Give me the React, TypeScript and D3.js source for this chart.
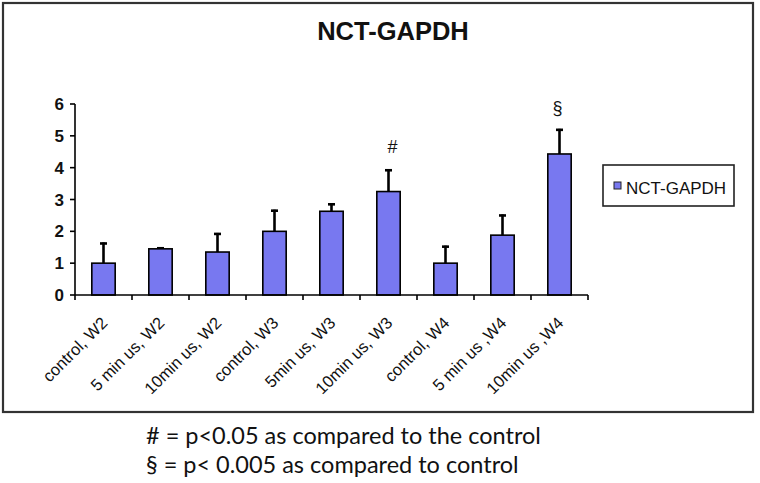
import React from "react";
import * as d3 from "d3";

const categories = [
  "control, W2",
  "5 min us, W2",
  "10min us, W2",
  "control, W3",
  "5min us, W3",
  "10min us, W3",
  "control, W4",
  "5 min us ,W4",
  "10min us ,W4",
];
const means = [1.0, 1.45, 1.35, 2.0, 2.63, 3.25, 1.0, 1.88, 4.43];
const errors = [0.65, 0.05, 0.6, 0.68, 0.25, 0.7, 0.55, 0.65, 0.79];
const marks = ["", "", "", "", "", "#", "", "", "§"];
const yTicks = [0, 1, 2, 3, 4, 5, 6];
const seriesName = "NCT-GAPDH";
const footnotes = [
  "# = p<0.05 as compared to the control",
  "§ = p< 0.005 as compared to control",
];

const W = 760;
const H = 483;
const BAR = "#7878F0";

export default function App() {
  const x = d3
    .scaleBand<string>()
    .domain(categories)
    .range([75, 588])
    .paddingInner(0.59)
    .paddingOuter(0.295);
  const y = d3.scaleLinear().domain([0, 6]).range([295, 104]);
  const step = x.step();
  const x0 = x.range()[0];
  const boundaries = d3.range(categories.length + 1).map((i) => x0 + i * step);
  const font = "Arial, 'Liberation Sans', sans-serif";

  return (
    <svg
      width={W}
      height={H}
      style={{ position: "absolute", left: 0, top: 0, display: "block", background: "#fff" }}
    >
      <rect x={0} y={0} width={W} height={H} fill="#fff" />
      <rect x={3} y={3} width={750} height={409} fill="#fff" stroke="#333" strokeWidth={2.2} />

      <text x={393} y={40} textAnchor="middle" fontFamily={font} fontWeight="bold" fontSize={25.5} fill="#111">
        NCT-GAPDH
      </text>

      {/* bars */}
      {categories.map((c, i) => {
        const bx = x(c)!;
        const bw = x.bandwidth();
        const cx = bx + bw / 2;
        const top = y(means[i] + errors[i]);
        return (
          <g key={c}>
            <line x1={cx} x2={cx} y1={y(means[i])} y2={top} stroke="#000" strokeWidth={2.6} />
            <line x1={cx - 3.5} x2={cx + 3.5} y1={top + 1} y2={top + 1} stroke="#000" strokeWidth={2.6} />
            <rect x={bx} y={y(means[i])} width={bw} height={y(0) - y(means[i])} fill={BAR} stroke="#000" strokeWidth={1.6} />
            {marks[i] && (
              <text
                x={cx + (marks[i] === "#" ? 4 : -2)}
                y={top - (marks[i] === "#" ? 16 : 15)}
                textAnchor="middle"
                fontFamily={font}
                fontSize={18}
                fill="#111"
              >
                {marks[i]}
              </text>
            )}
          </g>
        );
      })}

      {/* y axis */}
      <line x1={75} x2={75} y1={y(6)} y2={y(0)} stroke="#000" strokeWidth={1.6} />
      {yTicks.map((t) => (
        <g key={t}>
          <line x1={70} x2={75} y1={y(t)} y2={y(t)} stroke="#000" strokeWidth={1.6} />
          <text
            x={64}
            y={y(t)}
            dy="0.36em"
            textAnchor="end"
            fontFamily={font}
            fontWeight="bold"
            fontSize={17}
            fill="#111"
          >
            {t}
          </text>
        </g>
      ))}

      {/* x axis */}
      <line x1={x0} x2={boundaries[boundaries.length - 1]} y1={y(0)} y2={y(0)} stroke="#000" strokeWidth={1.6} />
      {boundaries.map((b, i) => (
        <line key={i} x1={b} x2={b} y1={y(0)} y2={y(0) + 5} stroke="#000" strokeWidth={1.6} />
      ))}
      {categories.map((c) => {
        const cx = x(c)! + x.bandwidth() / 2;
        return (
          <text
            key={c}
            transform={`translate(${cx + 5},${y(0) + 29}) rotate(-45)`}
            textAnchor="end"
            fontFamily={font}
            fontSize={16.5}
            fill="#111"
          >
            {c}
          </text>
        );
      })}

      {/* legend */}
      <rect x={603} y={165} width={131} height={41} fill="#fff" stroke="#222" strokeWidth={1.6} />
      <rect x={614} y={182} width={7} height={7} fill={BAR} stroke="#222" strokeWidth={1} />
      <text x={626} y={193.5} fontFamily={font} fontSize={17} fill="#111">
        {seriesName}
      </text>

      {/* footnotes */}
      {footnotes.map((f, i) => (
        <text key={i} x={146} y={444 + i * 28.5} fontFamily="Lato, 'Open Sans', sans-serif" fontSize={23.5} fill="#111">
          {f}
        </text>
      ))}
    </svg>
  );
}
